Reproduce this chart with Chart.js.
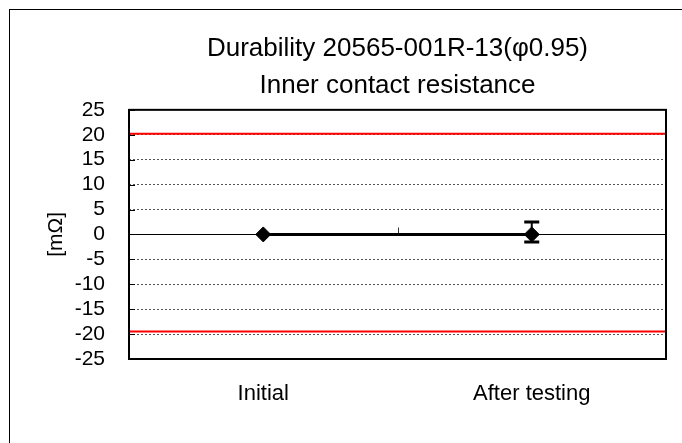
<!DOCTYPE html>
<html>
<head>
<meta charset="utf-8">
<script src="https://cdn.jsdelivr.net/npm/chart.js@4.4.1/dist/chart.umd.min.js"></script>
<style>
  html, body { margin: 0; padding: 0; background: #fff; }
  #wrap { width: 682px; height: 443px; position: relative; }
</style>
</head>
<body>
<div id="wrap"><canvas id="chart"></canvas></div>
<script>
// values
const categories = ['Initial', 'After testing'];
const meanValues = [0, 0];
const errUpper = [0, 2.5];
const errLower = [0, -1.5];
const limitX = [0, 2];
const upperLimit = [20.2, 20.2];
const lowerLimit = [-19.5, -19.5];
const titleLines = ['Durability 20565-001R-13(\u03c60.95)', 'Inner contact resistance'];
const yMin = -25, yMax = 25, yStep = 5;

const FONT = "'Liberation Sans', Arial, sans-serif";

// outer box, plot frame, zero line and small ticks
const framePlugin = {
  id: 'frame',
  beforeDatasetsDraw(chart) {
    const ctx = chart.ctx, a = chart.chartArea, y = chart.scales.y, x = chart.scales.x;
    ctx.save();
    const y0 = Math.round(y.getPixelForValue(0)) + 0.5;
    ctx.strokeStyle = '#000';
    ctx.lineWidth = 1;
    ctx.beginPath();
    ctx.moveTo(a.left, y0);
    ctx.lineTo(a.right, y0);
    ctx.stroke();
    // left ticks inside
    y.ticks.forEach(t => {
      const py = Math.round(y.getPixelForValue(t.value)) + 0.5;
      ctx.beginPath();
      ctx.moveTo(a.left, py);
      ctx.lineTo(a.left + 6, py);
      ctx.stroke();
    });
    // category boundary tick on zero line
    const mid = Math.round((x.getPixelForValue(0) + x.getPixelForValue(1)) / 2) + 0.5;
    ctx.strokeStyle = '#333';
    ctx.beginPath();
    ctx.moveTo(mid, y0);
    ctx.lineTo(mid, y0 - 7);
    ctx.stroke();
    ctx.restore();
  },
  afterDraw(chart) {
    const ctx = chart.ctx, a = chart.chartArea;
    ctx.save();
    ctx.strokeStyle = '#000';
    ctx.lineWidth = 2;
    ctx.strokeRect(a.left, a.top, a.right - a.left, a.bottom - a.top);
    ctx.lineWidth = 1;
    ctx.strokeRect(9.5, 9.5, 800, 800);
    ctx.restore();
  }
};

const errorBarPlugin = {
  id: 'errorBars',
  afterDatasetsDraw(chart) {
    const ctx = chart.ctx, x = chart.scales.x, y = chart.scales.y;
    ctx.save();
    ctx.strokeStyle = '#000';
    for (let i = 0; i < categories.length; i++) {
      if (errUpper[i] === errLower[i]) continue;
      const px = x.getPixelForValue(i);
      const top = y.getPixelForValue(errUpper[i]);
      const bot = y.getPixelForValue(errLower[i]);
      ctx.lineWidth = 2;
      ctx.beginPath();
      ctx.moveTo(px, top);
      ctx.lineTo(px, bot);
      ctx.stroke();
      ctx.lineWidth = 3;
      ctx.beginPath();
      ctx.moveTo(px - 7.5, top);
      ctx.lineTo(px + 7.5, top);
      ctx.moveTo(px - 7.5, bot);
      ctx.lineTo(px + 7.5, bot);
      ctx.stroke();
    }
    ctx.restore();
  }
};

const ctx = document.getElementById('chart').getContext('2d');
new Chart(ctx, {
  type: 'line',
  data: {
    labels: categories,
    datasets: [
      {
        data: limitX.map((v, i) => ({ x: v, y: upperLimit[i] })),
        xAxisID: 'xLim',
        borderColor: '#ff0000',
        borderWidth: 2,
        pointRadius: 0,
        order: 2
      },
      {
        data: limitX.map((v, i) => ({ x: v, y: lowerLimit[i] })),
        xAxisID: 'xLim',
        borderColor: '#ff0000',
        borderWidth: 2,
        pointRadius: 0,
        order: 2
      },
      {
        data: meanValues,
        xAxisID: 'x',
        borderColor: '#000',
        borderWidth: 3,
        pointStyle: 'rectRot',
        pointRadius: 7.5,
        pointBackgroundColor: '#000',
        pointBorderColor: '#000',
        pointBorderWidth: 1,
        order: 1
      }
    ]
  },
  options: {
    responsive: true,
    maintainAspectRatio: false,
    animation: false,
    events: [],
    layout: { padding: { left: 0, right: 16, top: 0, bottom: 0 } },
    plugins: {
      legend: { display: false },
      tooltip: { enabled: false },
      title: {
        display: true,
        text: titleLines,
        fullSize: false,
        color: '#000',
        font: { family: FONT, size: 26, weight: 'normal', lineHeight: 1.42 },
        padding: { top: 30, bottom: 6 }
      }
    },
    scales: {
      x: {
        type: 'category',
        offset: true,
        grid: { display: false },
        border: { display: false },
        ticks: {
          color: '#000',
          font: { family: FONT, size: 22 },
          padding: 14,
          maxRotation: 0
        },
        afterFit(scale) { scale.height = 84; }
      },
      xLim: {
        type: 'linear',
        min: 0,
        max: 2,
        display: false
      },
      y: {
        min: yMin,
        max: yMax,
        border: { display: false, dash: [2, 2] },
        grid: {
          drawTicks: false,
          lineWidth: 1,
          color: c => (c.tick && (Math.abs(c.tick.value) === 25 || c.tick.value === 0)) ? 'rgba(0,0,0,0)' : '#555'
        },
        ticks: {
          stepSize: yStep,
          autoSkip: false,
          color: '#000',
          font: { family: FONT, size: 21 },
          padding: 24
        },
        title: {
          display: true,
          text: '[m\u03a9]',
          color: '#000',
          font: { family: FONT, size: 21 },
          padding: { top: 44, bottom: 0 }
        },
        afterFit(scale) { scale.width = 129; }
      }
    }
  },
  plugins: [framePlugin, errorBarPlugin]
});
</script>
</body>
</html>
